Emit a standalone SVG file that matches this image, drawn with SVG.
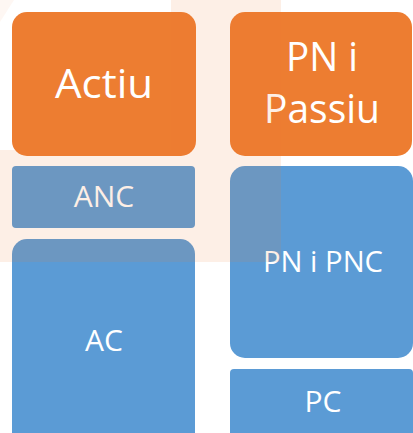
<svg xmlns="http://www.w3.org/2000/svg" width="413" height="433" viewBox="0 0 413 433">
  <style>
    .org { fill: #ED7D31; }
    .blu { fill: #5B9BD5; }
    .big { font-family: "Open Sans", "Noto Sans", sans-serif; font-size: 41px; fill: #FFFFFF; text-anchor: middle; }
    .sm { font-family: "Open Sans", "Noto Sans", sans-serif; font-size: 30px; fill: #FFFFFF; text-anchor: middle; }
    .wm { fill: #ED7D31; fill-opacity: 0.12; }
  </style>
  <rect width="413" height="433" fill="#FFFFFF"/>
  <g id="actiu">
    <rect class="org" x="12" y="12" width="184" height="144" rx="15"/>
    <text class="big" x="104" y="98" textLength="98" lengthAdjust="spacingAndGlyphs">Actiu</text>
  </g>
  <g id="pn-passiu">
    <rect class="org" x="230" y="12" width="182" height="144" rx="15"/>
    <text class="big" x="322" y="71" textLength="72" lengthAdjust="spacingAndGlyphs">PN i</text>
    <text class="big" x="322" y="123" textLength="116" lengthAdjust="spacingAndGlyphs">Passiu</text>
  </g>
  <g id="anc">
    <rect class="blu" x="12" y="166" width="183" height="62" rx="4"/>
    <text class="sm" x="104" y="207">ANC</text>
  </g>
  <g id="ac">
    <rect class="blu" x="12" y="239" width="183" height="210" rx="15"/>
    <text class="sm" x="104" y="351">AC</text>
  </g>
  <g id="pn-pnc">
    <rect class="blu" x="230" y="166" width="183" height="192" rx="15"/>
    <text class="sm" x="323" y="272" textLength="120" lengthAdjust="spacingAndGlyphs">PN i PNC</text>
  </g>
  <g id="pc">
    <rect class="blu" x="230" y="369" width="183" height="80" rx="4"/>
    <text class="sm" x="323" y="412">PC</text>
  </g>
  <g id="connectors"/>
  <path class="wm" d="M171,0 H281 V262 H0 V150 H171 Z"/>
  <path fill="#ED7D31" fill-opacity="0.06" d="M0,0 H14 L0,22 Z"/>
</svg>
